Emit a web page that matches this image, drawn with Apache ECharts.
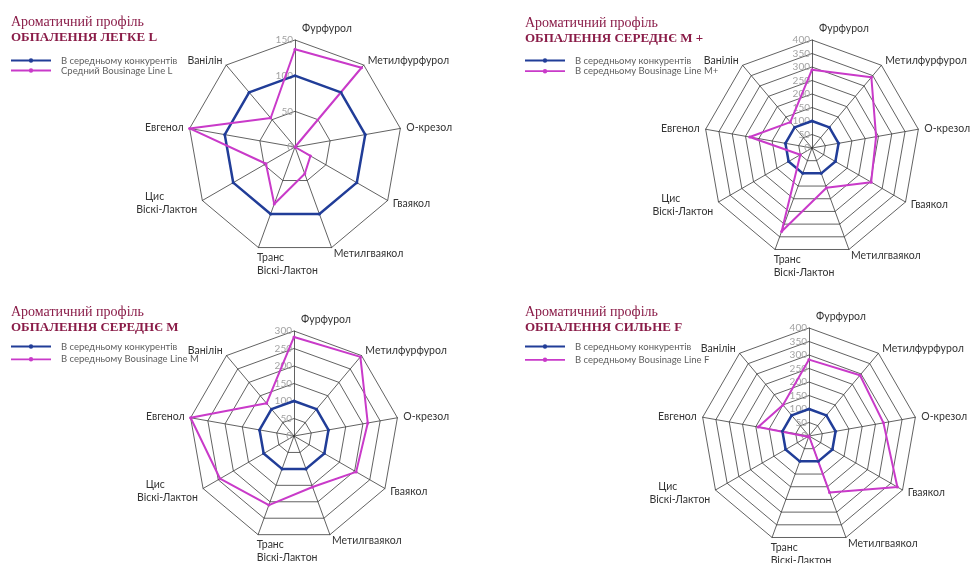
<!DOCTYPE html>
<html><head><meta charset="utf-8">
<script src="https://cdn.jsdelivr.net/npm/echarts@6/dist/echarts.min.js"></script>
<style>html,body{margin:0;padding:0;background:#fff}#c{width:971px;height:563px}</style>
</head><body><div id="c"></div>
<script>
// Categories in clockwise order starting from the top
const categories = ['Фурфурол','Метилфурфурол','О-крезол','Гваякол','Метилгваякол','Транс\nВіскі-Лактон','Цис\nВіскі-Лактон','Евгенол','Ванілін'];

const titleLine1 = 'Ароматичний профіль';
const titlesL2 = ['ОБПАЛЕННЯ ЛЕГКЕ L','ОБПАЛЕННЯ СЕРЕДНЄ M +','ОБПАЛЕННЯ СЕРЕДНЄ M','ОБПАЛЕННЯ СИЛЬНЕ F'];
const competitorName = 'В середньому конкурентів';
const lineNames = ['Средний Bousinage Line L','В середньому Bousinage Line M+','В середньому Bousinage Line M','В середньому Bousinage Line F'];

const competitorL  = [100,100,100,100,100,100,100,100,100];
const competitorMp = [100,100,100,100,100,100,100,100,100];
const competitorM  = [100,100,100,100,100,100,100,100,100];
const competitorF  = [100,100,100,100,100,100,100,100,100];

const lineL  = [137,145,0,25,40,85,47,150,53];
const lineMp = [290,342,241,253,157,329,50,234,125];
const lineM  = [283,295,214,205,155,210,244,300,122];
const lineF  = [283,294,280,378,223,0,5,191,150];

const maxL = 150, maxMp = 400, maxM = 300, maxF = 400;
const stepTick = 50;

const BLUE = '#213d98', MAG = '#c93ac9', CRIM = '#8a1c48';

const charts = [
  {comp: competitorL,  line: lineL,  max: maxL,  center:[295,147], radius:107, tx:11,  ty:15,  lx:11,  ly:55.5, gap:0},
  {comp: competitorMp, line: lineMp, max: maxMp, center:[812,148], radius:108, tx:525, ty:16,  lx:525, ly:55.5, gap:0.7},
  {comp: competitorM,  line: lineM,  max: maxM,  center:[294,436], radius:105, tx:11,  ty:305, lx:11,  ly:341.5, gap:2.8},
  {comp: competitorF,  line: lineF,  max: maxF,  center:[809,436], radius:108, tx:525, ty:305, lx:525, ly:341.5, gap:3.3}
];

// ECharts places indicators counter-clockwise; reorder so they read clockwise
const order = [0].concat(categories.map((_, i) => i).slice(1).reverse());
const reorder = arr => order.map(i => arr[i]);

const LEG_ICON = 'path://M0,2.1H40V3.9H0Z M17.8,3A2.2,2.2,0,1,1,22.2,3A2.2,2.2,0,1,1,17.8,3Z';
const nameFont = {color: '#333', fontSize: 10.5, fontFamily: 'Lato', lineHeight: 13};

function indicatorFor(i, k, max) {
  const ind = {name: categories[i], min: 0, max: max, axisLabel: {show: k === 0}};
  if (i === 0) {
    ind.nameGap = 0;
    ind.nameTextStyle = {align: 'left', verticalAlign: 'bottom', padding: [0, 0, 0, 7]};
  } else if (i === 5) {
    ind.nameGap = 4;
    ind.nameTextStyle = {align: 'left', verticalAlign: 'top'};
  }
  return ind;
}

const option = {
  animation: false,
  backgroundColor: '#fff',
  title: charts.map((c, k) => ({
    text: titleLine1, subtext: titlesL2[k], left: c.tx, top: c.ty, padding: 0, itemGap: 2,
    textStyle: {fontFamily: 'Liberation Serif', fontSize: 14, fontWeight: 'normal', color: CRIM},
    subtextStyle: {fontFamily: 'Liberation Serif', fontSize: 13, fontWeight: 'bold', color: CRIM}
  })),
  legend: charts.map((c, k) => ({
    left: c.lx, top: c.ly, orient: 'vertical', itemGap: c.gap, itemWidth: 40, itemHeight: 6,
    icon: LEG_ICON, selectedMode: false, padding: 0,
    data: [competitorName, lineNames[k]],
    textStyle: {color: '#5e5e5e', fontSize: 9.5, fontFamily: 'Lato', padding: [0, 0, 0, 5]}
  })),
  radar: charts.map(c => ({
    center: c.center, radius: c.radius, startAngle: 90, shape: 'polygon',
    splitNumber: c.max / stepTick,
    indicator: order.map((i, k) => indicatorFor(i, k, c.max)),
    axisName: Object.assign({}, nameFont, {
      formatter: function (name) {
        if (name.indexOf('Цис') === 0) {
          const parts = name.split('\n');
          return '{c|' + parts[0] + '}\n' + parts[1];
        }
        return name;
      },
      rich: {c: Object.assign({}, nameFont, {padding: [0, 33, 0, 0]})}
    }),
    nameGap: 6,
    splitArea: {show: false},
    splitLine: {lineStyle: {color: '#3a3a3a', width: 0.8}},
    axisLine: {lineStyle: {color: '#3a3a3a', width: 0.8}},
    axisTick: {show: false},
    axisLabel: {show: false, color: '#a3a3a3', fontSize: 10, fontFamily: 'Lato', margin: 2}
  })),
  series: charts.map((c, k) => ({
    type: 'radar', radarIndex: k, symbol: 'circle', symbolSize: 3,
    data: [
      {name: competitorName, value: reorder(c.comp), lineStyle: {color: BLUE, width: 2.5}, itemStyle: {color: BLUE}},
      {name: lineNames[k], value: reorder(c.line), lineStyle: {color: MAG, width: 2}, itemStyle: {color: MAG}}
    ]
  }))
};

const chart = echarts.init(document.getElementById('c'), null, {renderer: 'canvas'});
chart.setOption(option);
</script>
</body></html>
